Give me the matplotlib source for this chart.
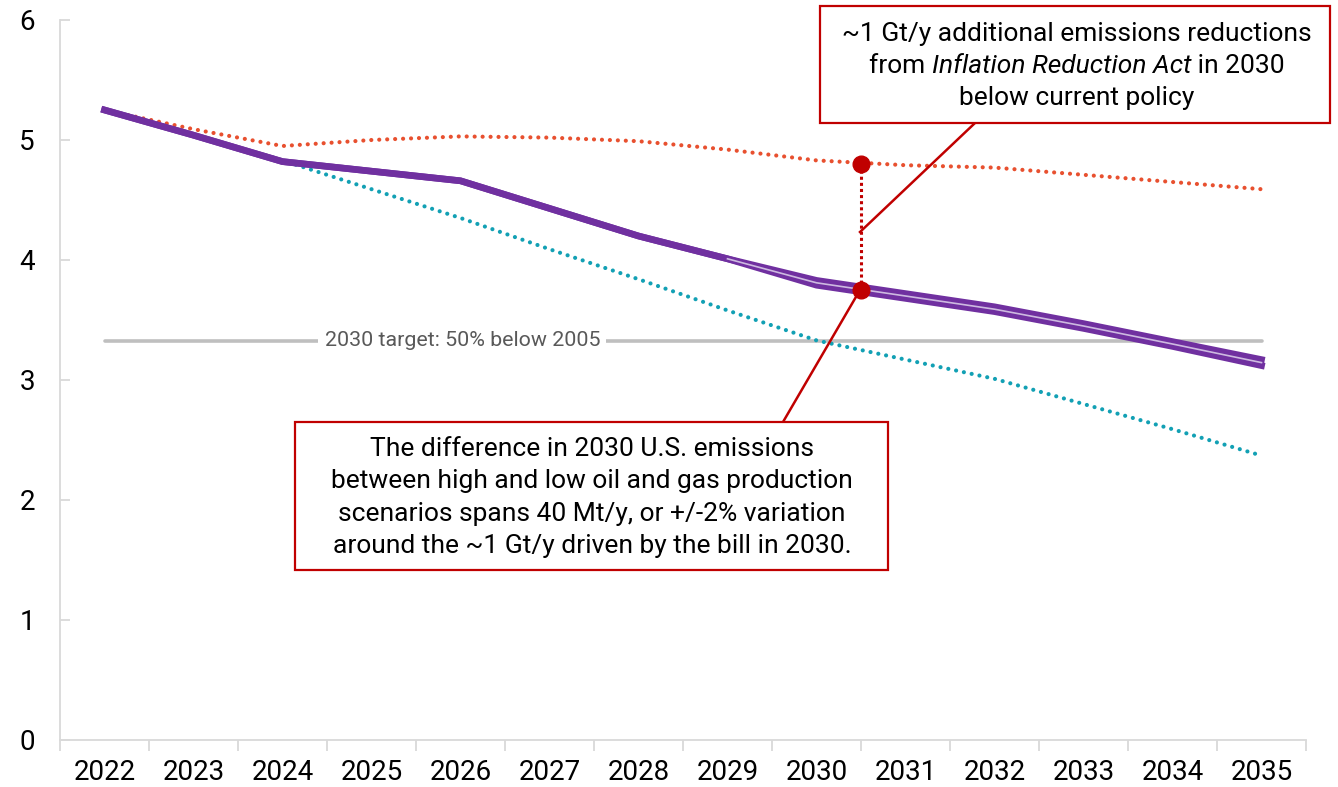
import matplotlib
matplotlib.use("Agg")
import matplotlib.pyplot as plt
import numpy as np
from matplotlib.lines import Line2D
from matplotlib.patches import Rectangle

plt.rcParams['font.family'] = ['Roboto', 'DejaVu Sans']

years = ["2022", "2023", "2024", "2025", "2026", "2027", "2028",
         "2029", "2030", "2031", "2032", "2033", "2034", "2035"]
current_policy = [5.25, 5.09, 4.95, 5.00, 5.03, 5.02, 4.99,
                  4.92, 4.83, 4.79, 4.77, 4.71, 4.65, 4.59]
ira_high = [5.25, 5.04, 4.82, 4.74, 4.66, 4.43, 4.20,
            4.01, 3.83, 3.72, 3.61, 3.47, 3.32, 3.17]
ira_low = [5.25, 5.04, 4.82, 4.74, 4.66, 4.43, 4.20,
           4.01, 3.79, 3.68, 3.57, 3.43, 3.28, 3.12]
target_path = [5.25, 5.04, 4.83, 4.59, 4.35, 4.09, 3.84,
               3.58, 3.33, 3.17, 3.01, 2.80, 2.59, 2.37]
target_2030 = 3.325
target_label = "2030 target: 50% below 2005"
annot_pos = 8.5
annot_top = 4.80
annot_bottom = 3.75
yticks = [0, 1, 2, 3, 4, 5, 6]

fig = plt.figure(figsize=(13.38, 7.87), dpi=100)
ax = fig.add_axes([60/1338, 47/787, 1246/1338, 720/787])

x = np.arange(len(years))
red = "#E8502F"
teal = "#12A0B4"
purple = "#7030A0"
lav = "#CDB9E0"
dark_red = "#C00000"
grey = "#BFBFBF"

# target line
ax.plot([x[0], x[-1]], [target_2030]*2, color=grey, lw=2.6, solid_capstyle='round', zorder=2)
ax.text(4.02, target_2030, target_label, ha='center', va='center', fontsize=15.4,
        color="#595959", zorder=3,
        bbox=dict(boxstyle='square,pad=0.3', fc='white', ec='none'))

# series
ax.plot(x, current_policy, color=red, lw=3.0, linestyle=(0, (0.01, 1.9)),
        dash_capstyle='round', zorder=4)
ax.plot(x, target_path, color=teal, lw=3.0, linestyle=(0, (0.01, 1.9)),
        dash_capstyle='round', zorder=4)
hi = np.array(ira_high); lo = np.array(ira_low)
ax.plot(x, hi, color=purple, lw=4.8, zorder=5, solid_joinstyle='round')
ax.plot(x, lo, color=purple, lw=4.8, zorder=5, solid_joinstyle='round')
mid = (hi + lo) / 2
diff = hi - lo
mask = np.where(diff > 0.02, mid, np.nan)
first = np.argmax(diff > 0.02)
mask[first-1] = mid[first-1]
ax.plot(x, mask, color=lav, lw=1.2, zorder=6)

# annotation
ax.plot([annot_pos, annot_pos], [annot_top, annot_bottom], color=dark_red, lw=2.2,
        linestyle=(0, (1, 1)), zorder=7)
ax.plot([annot_pos], [annot_top], 'o', color=dark_red, ms=12, zorder=8)
ax.plot([annot_pos], [annot_bottom], 'o', color=dark_red, ms=12, zorder=8)

fig.canvas.draw()
inv = lambda px, py: fig.transFigure.inverted().transform((px, 787-py))
for (x0, y0, x1, y1) in [(860, 232, 975, 123), (860, 290, 783, 422)]:
    a = inv(x0, y0); b = inv(x1, y1)
    fig.add_artist(Line2D([a[0], b[0]], [a[1], b[1]], color=dark_red, lw=1.8, zorder=9))

for (bx0, by0, bx1, by1) in [(820, 6, 1330, 123), (295, 422, 888, 570)]:
    a = inv(bx0, by1); b = inv(bx1, by0)
    fig.add_artist(Rectangle((a[0], a[1]), b[0]-a[0], b[1]-a[1], transform=fig.transFigure,
                             fc='white', ec=dark_red, lw=1.6, zorder=10))

FS = 19
renderer = fig.canvas.get_renderer()
def line_center(cx, cy, text, **kw):
    c = inv(cx, cy)
    fig.text(c[0], c[1], text, ha='center', va='center', fontsize=FS, zorder=11, **kw)

line_center(1077, 34, "~1 Gt/y additional emissions reductions")
line_center(1077, 98, "below current policy")
parts = [("from ", 'normal'), ("Inflation Reduction Act", 'italic'), (" in 2030", 'normal')]
widths = []
for t, st in parts:
    tt = fig.text(0, 0, t, fontsize=FS, style=st)
    bb = tt.get_window_extent(renderer)
    widths.append(bb.width)
    tt.remove()
total = sum(widths)
start = 1077 - total/2
for (t, st), w in zip(parts, widths):
    c = inv(start, 66)
    fig.text(c[0], c[1], t, ha='left', va='center', fontsize=FS, style=st, zorder=11)
    start += w

for i, t in enumerate(["The difference in 2030 U.S. emissions",
                       "between high and low oil and gas production",
                       "scenarios spans 40 Mt/y, or +/-2% variation",
                       "around the ~1 Gt/y driven by the bill in 2030."]):
    line_center(592, 449 + 32.3*i, t)

# axes styling
ax.set_xlim(-0.5, 13.5)
ax.set_ylim(0, 6)
ax.set_yticks(yticks)
ax.set_yticklabels([str(v) for v in yticks])
ax.set_xticks(x)
ax.set_xticklabels(years)
ax.set_xticks(np.arange(-0.5, 14, 1), minor=True)
ax.tick_params(axis='x', which='major', length=0, labelsize=20, pad=14)
ax.tick_params(axis='x', which='minor', length=8, width=1.3, color="#D9D9D9", direction='out')
ax.tick_params(axis='y', which='major', length=7, width=1.3, color="#D9D9D9", direction='in',
               labelsize=20, pad=18)
for s in ['top', 'right']:
    ax.spines[s].set_visible(False)
for s in ['left', 'bottom']:
    ax.spines[s].set_color("#D9D9D9")
    ax.spines[s].set_linewidth(1.3)

fig.savefig("out.png", dpi=100)
